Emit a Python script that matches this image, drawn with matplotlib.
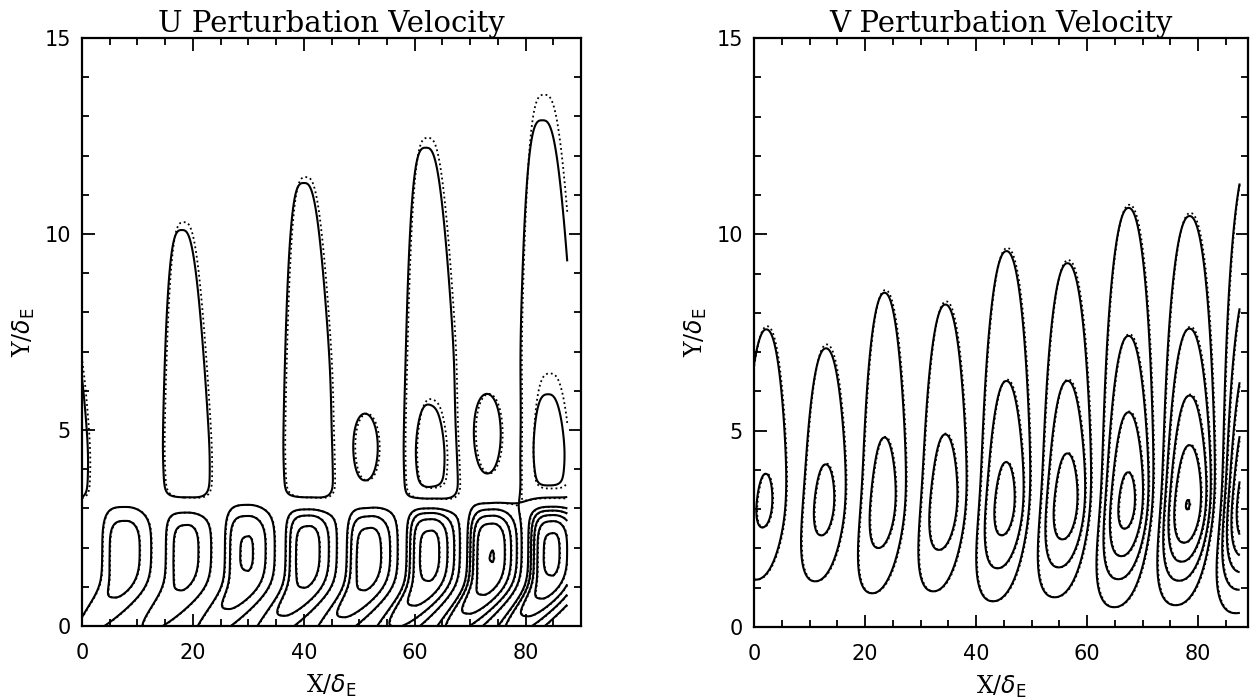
import numpy as np
import matplotlib.pyplot as plt
from matplotlib.ticker import MultipleLocator

# ---------------- U panel: values ----------------
# near-wall cells: x of centre, peak value (in contour steps, sign alternates)
u_cell_x = [8, 19, 30, 41, 52, 63, 74, 85]
u_cell_amp = [2.6, -2.4, 3.1, -3.5, 3.6, -4.4, 5.05, -5.3]
u_cell_y = 1.75
# tall lobes: x of crest and crest height, solid and dotted solution
u_lobe_x = [-2.5, 18, 40, 62, 83]
u_lobe_top = [7.5, 10.1, 11.3, 12.2, 12.9]
u_lobe_top_dot = [7.6, 10.3, 11.45, 12.45, 13.55]
u_lobe_w = [4.8, 5.0, 5.1, 5.2, 5.5]
# mid-height cells between / inside the lobes
u_mid_x = [51, 62, 73, 84]
u_mid_y = [4.55, 4.35, 4.9, 4.75]
u_mid_amp = [-1.4, 0.3, -1.6, 0.1]

# ---------------- V panel ----------------
v_cell_x = [2.3, 13, 23.5, 34.5, 45.5, 56.5, 67.5, 78.5, 89.5]
v_cell_amp = [2.15, -2.3, 2.5, -2.6, 3.4, -3.6, 4.35, -5.05, 6.0]
v_cell_top = [7.6, 7.15, 8.55, 8.25, 9.6, 9.3, 10.7, 10.5, 12.0]
v_cell_top_dot = [7.68, 7.25, 8.62, 8.33, 9.68, 9.38, 10.78, 10.58, 12.1]
v_cell_bot = [1.2, 1.15, 0.85, 0.9, 0.65, 0.75, 0.5, 0.55, 0.35]
v_cell_y = 3.1

levels = [-6, -5, -4, -3, -2, -1, 1, 2, 3, 4, 5, 6]

x = np.linspace(0, 87.5, 700)
y = np.linspace(0, 15, 500)
xx, yy = np.meshgrid(x, y)


def softplus(z, s=0.3):
    return s * np.log1p(np.exp(z / s))


def u_field(tops, dx_cell=0.0, dx_lobe=0.0):
    f = np.zeros_like(xx)
    d = yy - u_cell_y
    fy = np.where(d > 0, -np.abs(d / 1.3) ** 4, -(d / 2.0) ** 2)
    for xc, a in zip(u_cell_x, u_cell_amp):
        xs = xx - xc - dx_cell + 6.0 * softplus(1.0 - yy, 0.2)
        fx = np.where(xs < 0, -np.abs(xs / 4.4) ** 3.5, -(xs / 4.7) ** 2)
        f += a * np.exp(fy + fx)
    step = 1 / (1 + np.exp(-(yy - 3.05) / 0.12))
    lz = 10.4
    prof = np.exp(-(np.sqrt((yy - 4.4) ** 2 + 0.25) - 0.5) / lz)
    for xc, h, w in zip(u_lobe_x, tops, u_lobe_w):
        xs = xx - xc - dx_lobe - 0.14 * (h - yy)
        wy = w * (1 + 0.01 * (h - yy))
        peak = np.exp((np.sqrt((h - 4.4) ** 2 + 0.25) - 0.5) / lz)
        f += step * peak * prof * np.exp(-np.abs(xs / wy) ** 3)
    for xc, yc, a in zip(u_mid_x, u_mid_y, u_mid_amp):
        f += a * np.exp(-((xx - xc - dx_lobe) / 4.1) ** 2 - ((yy - yc) / 1.5) ** 2)
    return f


def v_field(tops, dx=0.0):
    f = np.zeros_like(xx)
    e = 0.8
    d = yy - v_cell_y
    for xc, a, top, bot in zip(v_cell_x, v_cell_amp, tops, v_cell_bot):
        m = np.log(abs(a))
        lu = (np.sqrt((top - v_cell_y) ** 2 + e ** 2) - e) / m
        wb = (v_cell_y - bot) / np.sqrt(m)
        fy = np.where(d > 0, -(np.sqrt(d ** 2 + e ** 2) - e) / lu, -(d / wb) ** 2)
        xs = xx - xc - dx + 1.0 * softplus(-d, 0.5)
        f += a * np.exp(fy - np.abs(xs / 5.0) ** 2.2)
    return f


fig = plt.figure(figsize=(12.54, 6.98), dpi=100)
ax1 = fig.add_axes([0.0654, 0.1032, 0.398, 0.8424])
ax2 = fig.add_axes([0.6013, 0.1017, 0.3939, 0.8439])

ax1.contour(xx, yy, u_field(u_lobe_top_dot, 0.1, 0.35), levels=levels, colors='k',
            linewidths=1.3, linestyles=':')
ax1.contour(xx, yy, u_field(u_lobe_top), levels=levels, colors='k',
            linewidths=1.5, linestyles='-')
ax2.contour(xx, yy, v_field(v_cell_top_dot, 0.15), levels=levels, colors='k',
            linewidths=1.3, linestyles=':')
ax2.contour(xx, yy, v_field(v_cell_top), levels=levels, colors='k',
            linewidths=1.5, linestyles='-')

for ax, title, xmax in [(ax1, 'U Perturbation Velocity', 90),
                        (ax2, 'V Perturbation Velocity', 89)]:
    ax.set_xlim(0, xmax)
    ax.set_ylim(0, 15)
    ax.xaxis.set_major_locator(MultipleLocator(20))
    ax.xaxis.set_minor_locator(MultipleLocator(5))
    ax.yaxis.set_major_locator(MultipleLocator(5))
    ax.yaxis.set_minor_locator(MultipleLocator(1))
    ax.tick_params(which='both', direction='in', top=True, right=True, width=1.3)
    ax.tick_params(which='major', length=9, labelsize=15)
    ax.tick_params(axis='x', which='major', pad=12)
    ax.tick_params(axis='y', which='major', pad=8)
    ax.tick_params(which='minor', length=5)
    for s in ax.spines.values():
        s.set_linewidth(1.6)
    ax.set_title(title, family='DejaVu Serif', fontsize=21, pad=2)
    ax.set_xlabel(r'X/$\delta_{\rm E}$', family='DejaVu Serif', fontsize=17, labelpad=7)
    ax.set_ylabel(r'Y/$\delta_{\rm E}$', family='DejaVu Serif', fontsize=17, labelpad=5)

fig.savefig('out.png', dpi=100)
